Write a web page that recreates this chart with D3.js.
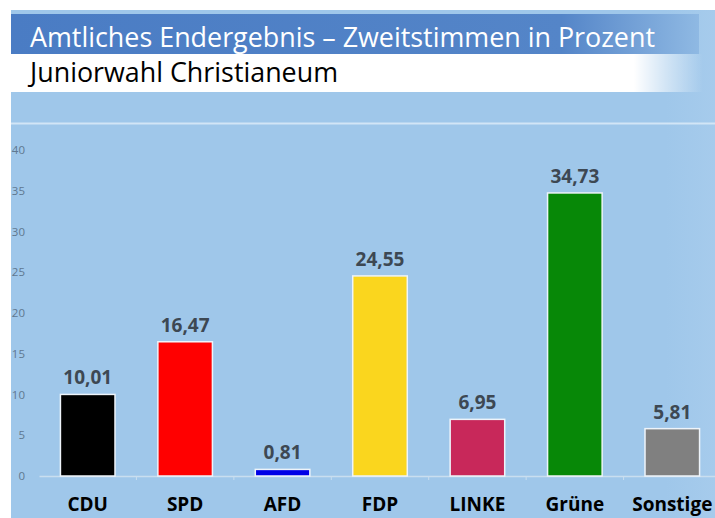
<!DOCTYPE html>
<html>
<head>
<meta charset="utf-8">
<script src="https://cdn.jsdelivr.net/npm/d3@7"></script>
<style>
  body { margin: 0; background: #fff; }
  svg { display: block; }
</style>
</head>
<body>
<div id="chart"></div>
<script>
// data
var parties = ["CDU", "SPD", "AFD", "FDP", "LINKE", "Grüne", "Sonstige"];
var votes = [10.01, 16.47, 0.81, 24.55, 6.95, 34.73, 5.81];
var partyColors = ["#000000", "#ff0000", "#0000e6", "#fad61e", "#c8285a", "#078807", "#808080"];
var yTicks = [0, 5, 10, 15, 20, 25, 30, 35, 40];
var titleText = "Amtliches Endergebnis \u2013 Zweitstimmen in Prozent";
var subTitleText = "Juniorwahl Christianeum";

var width = 715, height = 518;
var fontFamily = "'Open Sans', sans-serif";

var svg = d3.select("#chart").append("svg")
  .attr("width", width)
  .attr("height", height);

var defs = svg.append("defs");

var bgGrad = defs.append("linearGradient").attr("id", "bgGrad")
  .attr("x1", "0").attr("x2", "1").attr("y1", "0").attr("y2", "0");
bgGrad.append("stop").attr("offset", "0").attr("stop-color", "#9fc7ea");
bgGrad.append("stop").attr("offset", "0.93").attr("stop-color", "#9fc7ea");
bgGrad.append("stop").attr("offset", "1").attr("stop-color", "#a6cbec");

var titleGrad = defs.append("linearGradient").attr("id", "titleGrad")
  .attr("x1", "0").attr("x2", "1").attr("y1", "0").attr("y2", "0");
titleGrad.append("stop").attr("offset", "0").attr("stop-color", "#4a7cc4");
titleGrad.append("stop").attr("offset", "0.8").attr("stop-color", "#5485c8");
titleGrad.append("stop").attr("offset", "1").attr("stop-color", "#8fb9e3");

var whiteGrad = defs.append("linearGradient").attr("id", "whiteGrad")
  .attr("x1", "0").attr("x2", "1").attr("y1", "0").attr("y2", "0");
whiteGrad.append("stop").attr("offset", "0").attr("stop-color", "#ffffff");
whiteGrad.append("stop").attr("offset", "0.9").attr("stop-color", "#ffffff");
whiteGrad.append("stop").attr("offset", "1").attr("stop-color", "#ffffff").attr("stop-opacity", 0);

// background panel
svg.append("rect")
  .attr("x", 11).attr("y", 10)
  .attr("width", width - 11).attr("height", height - 10)
  .attr("fill", "url(#bgGrad)");

// header bands
svg.append("rect")
  .attr("x", 11).attr("y", 14)
  .attr("width", 688).attr("height", 40)
  .attr("fill", "url(#titleGrad)");

svg.append("rect")
  .attr("x", 11).attr("y", 54)
  .attr("width", 692).attr("height", 38)
  .attr("fill", "url(#whiteGrad)");

svg.append("line")
  .attr("x1", 11).attr("x2", width)
  .attr("y1", 123.5).attr("y2", 123.5)
  .attr("stroke", "#d2e5f6").attr("stroke-width", 2);

svg.append("text")
  .attr("x", 30).attr("y", 47)
  .attr("fill", "#ffffff")
  .attr("textLength", 625)
  .attr("lengthAdjust", "spacingAndGlyphs")
  .style("font-family", fontFamily)
  .style("font-size", "27px")
  .text(titleText);

svg.append("text")
  .attr("x", 30).attr("y", 82)
  .attr("fill", "#000000")
  .attr("textLength", 308)
  .attr("lengthAdjust", "spacingAndGlyphs")
  .style("font-family", fontFamily)
  .style("font-size", "27px")
  .text(subTitleText);

// scales
var x = d3.scaleBand()
  .domain(parties)
  .range([39, 721])
  .paddingInner(0.44)
  .paddingOuter(0.22);

var y = d3.scaleLinear()
  .domain([0, 40])
  .range([476, 150]);

// y tick labels
svg.append("g")
  .selectAll("text")
  .data(yTicks)
  .enter()
  .append("text")
  .attr("x", 25)
  .attr("y", function (d) { return y(d); })
  .attr("dy", "0.35em")
  .attr("text-anchor", "end")
  .attr("fill", "#607890")
  .style("font-family", fontFamily)
  .style("font-size", "11.5px")
  .text(function (d) { return d; });

// x axis
var xAxis = d3.axisBottom(x).tickSize(0).tickFormat("");
var axisG = svg.append("g")
  .attr("transform", "translate(0," + y(0) + ")")
  .call(xAxis);
axisG.select(".domain").attr("stroke", "#c9deef").attr("stroke-width", 1.5);

// tick marks between bands
var step = x.step();
svg.append("g")
  .selectAll("line")
  .data(parties.slice(1))
  .enter()
  .append("line")
  .attr("x1", function (d) { return x(d) - step * x.paddingInner() / 2; })
  .attr("x2", function (d) { return x(d) - step * x.paddingInner() / 2; })
  .attr("y1", y(0)).attr("y2", y(0) + 4)
  .attr("stroke", "#c9deef").attr("stroke-width", 1);

// bars
svg.append("g")
  .selectAll("rect")
  .data(votes)
  .enter()
  .append("rect")
  .attr("x", function (d, i) { return x(parties[i]); })
  .attr("y", function (d) { return y(d); })
  .attr("width", x.bandwidth())
  .attr("height", function (d) { return y(0) - y(d); })
  .attr("fill", function (d, i) { return partyColors[i]; })
  .attr("stroke", "#eef4fa")
  .attr("stroke-width", 1.5);

// value labels
svg.append("g")
  .selectAll("text")
  .data(votes)
  .enter()
  .append("text")
  .attr("x", function (d, i) { return x(parties[i]) + x.bandwidth() / 2; })
  .attr("y", function (d) { return y(d) - 10; })
  .attr("text-anchor", "middle")
  .attr("fill", "#3d4853")
  .style("font-family", fontFamily)
  .style("font-weight", "bold")
  .style("font-size", "19px")
  .text(function (d) { return d.toFixed(2).replace(".", ","); });

// category labels
svg.append("g")
  .selectAll("text")
  .data(parties)
  .enter()
  .append("text")
  .attr("x", function (d) { return x(d) + x.bandwidth() / 2; })
  .attr("y", 511)
  .attr("text-anchor", "middle")
  .attr("fill", "#000000")
  .style("font-family", fontFamily)
  .style("font-weight", "bold")
  .style("font-size", "19px")
  .text(function (d) { return d; });
</script>
</body>
</html>
